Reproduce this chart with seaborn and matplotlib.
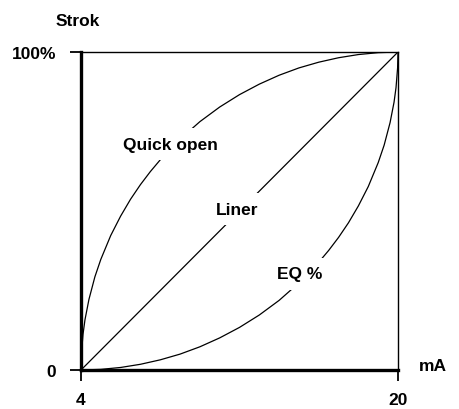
import numpy as np
import pandas as pd
import matplotlib
matplotlib.use("Agg")
import matplotlib.pyplot as plt
import seaborn as sns

# signal (mA) and stroke (%)
quick_ma = [4, 4.02, 4.1, 4.2, 4.4, 4.7, 5, 5.5, 6, 6.5, 7, 7.5, 8, 9, 10, 11, 12,
            13, 14, 15, 16, 17, 18, 19, 20]
quick_stroke = [0, 5.0, 11.2, 15.8, 22.2, 29.3, 34.8, 42.3, 48.4, 53.7, 58.3, 62.4,
                66.1, 72.6, 78.1, 82.7, 86.6, 89.9, 92.7, 95.0, 96.8, 98.2, 99.2,
                99.8, 100]

liner_ma = [4, 20]
liner_stroke = [0, 100]

eq_ma = [4, 5, 6, 7, 8, 9, 10, 11, 12, 13, 14, 15, 16, 16.5, 17, 17.5, 18, 18.5,
         19, 19.3, 19.6, 19.8, 19.9, 19.98, 20]
eq_stroke = [0, 0.2, 0.8, 1.8, 3.2, 5.0, 7.3, 10.1, 13.4, 17.3, 21.9, 27.4, 33.9,
             37.6, 41.7, 46.3, 51.6, 57.7, 65.2, 70.7, 77.8, 84.2, 88.8, 95.0, 100]

x_ticks = [4, 20]
x_ticklabels = ["4", "20"]
y_ticks = [0, 100]
y_ticklabels = ["0", "100%"]

sns.set_style("white")
plt.rcParams['font.family'] = ['Liberation Sans', 'DejaVu Sans']
plt.rcParams['text.color'] = 'black'

fig = plt.figure(figsize=(4.59, 4.10), dpi=100)
ax = fig.add_axes([0.1765, 0.0951, 0.6906, 0.7756])

for xs, ys in [(quick_ma, quick_stroke), (liner_ma, liner_stroke), (eq_ma, eq_stroke)]:
    df = pd.DataFrame({"mA": xs, "stroke": ys})
    sns.lineplot(data=df, x="mA", y="stroke", ax=ax, color="black", lw=0.9,
                 sort=False, zorder=2)

ax.set_xlim(4, 20)
ax.set_ylim(0, 100)
ax.set_xticks(x_ticks)
ax.set_xticklabels(x_ticklabels)
ax.set_yticks(y_ticks)
ax.set_yticklabels(y_ticklabels)
ax.set_xlabel("")
ax.set_ylabel("")
ax.tick_params(axis="both", direction="out", length=8, width=1.3, color="black",
               labelcolor="black", labelsize=12.5, bottom=True, left=True)
ax.tick_params(axis="x", pad=8)
ax.tick_params(axis="y", pad=10)
for lab in ax.get_xticklabels() + ax.get_yticklabels():
    lab.set_fontweight("bold")

for side in ["left", "bottom"]:
    ax.spines[side].set_linewidth(2.4)
for side in ["top", "right"]:
    ax.spines[side].set_linewidth(1.0)
for s in ax.spines.values():
    s.set_color("black")
    s.set_zorder(3)

box = dict(facecolor="white", edgecolor="none", pad=6)
ax.text(8.5, 71, "Quick open", ha="center", va="center", fontsize=12.5,
        fontweight="bold", bbox=box, zorder=4)
ax.text(11.9, 50.6, "Liner", ha="center", va="center", fontsize=12.5,
        fontweight="bold", bbox=box, zorder=4)
ax.text(15.05, 30.2, "EQ %", ha="center", va="center", fontsize=12.5,
        fontweight="bold", bbox=box, zorder=4)

ax.text(-0.01, 1.1, "Strok", transform=ax.transAxes, ha="center", va="center",
        fontsize=12.5, fontweight="bold")
ax.text(1.11, 0.015, "mA", transform=ax.transAxes, ha="center", va="center",
        fontsize=12.5, fontweight="bold")

fig.savefig("out.png", dpi=100)
